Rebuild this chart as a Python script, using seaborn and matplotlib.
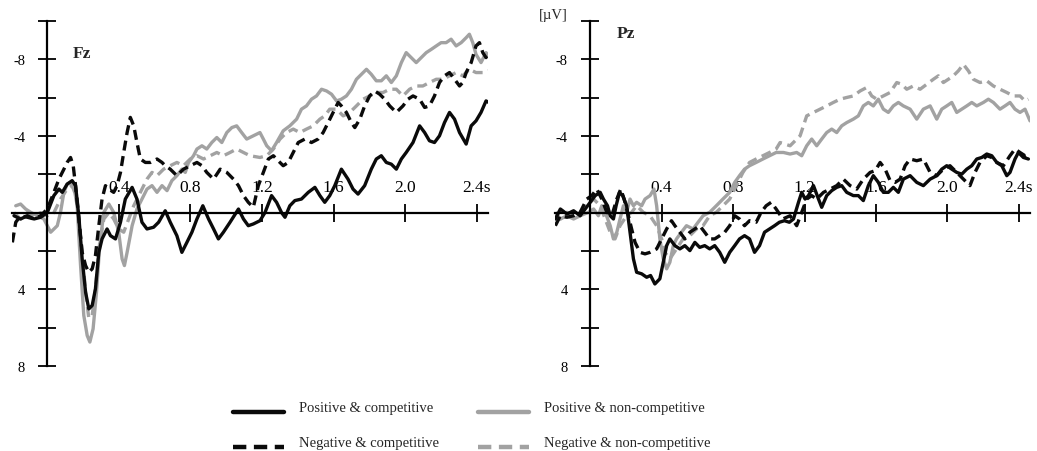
import matplotlib
matplotlib.use("Agg")
import numpy as np
import matplotlib.pyplot as plt
from matplotlib.lines import Line2D
from matplotlib.legend_handler import HandlerLine2D
import seaborn as sns
import pandas as pd

# ---------------- data: (time in s, amplitude in microvolts) ----------------
fz_pos_comp = [(-0.186,0.16),(-0.149,0.33),(-0.111,0.16),(-0.074,0.33),(-0.037,0.24),(0.0,0.0),(0.037,-0.89),(0.065,-1.23),(0.084,-1.06),(0.111,-1.49),(0.139,-1.67),(0.158,-1.41),(0.176,0.16),(0.195,2.41),(0.214,4.15),(0.232,5.02),(0.251,4.84),(0.269,3.98),(0.288,2.07),(0.306,1.37),(0.334,0.85),(0.353,1.20),(0.381,1.37),(0.409,0.50),(0.436,-0.71),(0.474,-1.32),(0.501,-0.71),(0.529,0.50),(0.557,0.85),(0.594,0.76),(0.622,0.50),(0.659,-0.10),(0.687,0.50),(0.724,1.20),(0.752,2.07),(0.780,1.55),(0.808,1.02),(0.836,0.33),(0.869,-0.36),(0.901,0.33),(0.929,0.85),(0.956,1.37),(0.984,1.02),(1.021,0.50),(1.068,-0.19),(1.096,0.33),(1.123,0.68),(1.151,0.59),(1.188,0.42),(1.216,0.0),(1.253,-0.89),(1.281,-0.54),(1.309,0.0),(1.328,0.24),(1.355,-0.36),(1.383,-0.63),(1.420,-0.71),(1.458,-1.06),(1.495,-1.32),(1.523,-0.89),(1.550,-0.54),(1.578,-0.89),(1.606,-1.41),(1.643,-2.27),(1.680,-1.75),(1.708,-1.23),(1.736,-0.97),(1.773,-1.41),(1.810,-2.27),(1.838,-2.80),(1.866,-2.97),(1.894,-2.62),(1.922,-2.53),(1.950,-2.27),(1.978,-2.80),(2.005,-3.14),(2.043,-3.66),(2.080,-4.53),(2.108,-4.18),(2.135,-3.75),(2.163,-3.66),(2.191,-4.01),(2.219,-4.70),(2.247,-5.23),(2.275,-4.88),(2.303,-4.18),(2.340,-3.58),(2.368,-4.53),(2.395,-4.79),(2.423,-5.23),(2.451,-5.83),(2.466,-5.75)]

fz_pos_noncomp = [(-0.176,-0.36),(-0.149,-0.45),(-0.121,-0.19),(-0.093,-0.02),(-0.056,0.16),(-0.019,0.33),(0.019,1.02),(0.056,0.68),(0.074,-0.02),(0.093,-1.06),(0.111,-1.49),(0.130,-1.58),(0.149,-1.32),(0.167,-0.36),(0.186,2.76),(0.204,5.36),(0.223,6.41),(0.238,6.75),(0.256,6.06),(0.275,4.15),(0.293,1.72),(0.316,-0.02),(0.344,-0.45),(0.371,-0.02),(0.399,1.02),(0.418,2.41),(0.431,2.76),(0.446,2.07),(0.474,0.68),(0.501,-0.19),(0.529,-0.71),(0.557,-1.23),(0.585,-1.41),(0.613,-1.06),(0.641,-1.41),(0.669,-1.15),(0.696,-1.67),(0.724,-1.93),(0.752,-2.27),(0.771,-2.10),(0.789,-2.62),(0.817,-2.97),(0.836,-3.32),(0.864,-3.49),(0.891,-3.32),(0.919,-3.66),(0.947,-3.92),(0.975,-3.66),(1.003,-4.18),(1.031,-4.44),(1.058,-4.53),(1.086,-4.18),(1.114,-3.84),(1.151,-4.01),(1.188,-4.18),(1.207,-3.84),(1.226,-3.49),(1.253,-3.23),(1.281,-3.66),(1.318,-4.27),(1.355,-4.53),(1.393,-4.88),(1.420,-5.40),(1.448,-5.57),(1.476,-5.92),(1.504,-6.09),(1.532,-6.44),(1.560,-6.35),(1.588,-6.18),(1.616,-5.83),(1.643,-5.92),(1.671,-6.09),(1.699,-6.44),(1.727,-6.96),(1.755,-7.22),(1.783,-7.48),(1.810,-7.22),(1.838,-6.88),(1.866,-6.88),(1.894,-7.14),(1.922,-6.79),(1.950,-7.14),(1.978,-7.83),(2.005,-8.35),(2.033,-8.09),(2.061,-7.83),(2.089,-8.09),(2.117,-8.35),(2.145,-8.52),(2.173,-8.70),(2.200,-8.87),(2.228,-8.87),(2.256,-9.05),(2.284,-8.70),(2.312,-8.87),(2.340,-9.13),(2.358,-9.31),(2.377,-8.87),(2.395,-8.26),(2.423,-7.83),(2.451,-8.35),(2.466,-8.18)]

fz_neg_comp = [(-0.195,1.55),(-0.176,0.50),(-0.149,0.16),(-0.111,0.24),(-0.074,0.33),(-0.037,0.16),(0.0,-0.19),(0.037,-1.06),(0.065,-1.75),(0.093,-2.27),(0.111,-2.62),(0.130,-2.88),(0.145,-2.45),(0.158,-1.41),(0.176,0.33),(0.195,2.07),(0.214,2.76),(0.232,3.11),(0.251,2.93),(0.269,2.24),(0.288,0.68),(0.306,-0.71),(0.325,-1.41),(0.344,-1.23),(0.371,-1.06),(0.390,-1.41),(0.409,-2.10),(0.427,-3.14),(0.446,-4.18),(0.464,-4.97),(0.483,-4.53),(0.501,-3.66),(0.520,-2.80),(0.548,-2.62),(0.576,-2.62),(0.613,-2.80),(0.641,-2.62),(0.659,-2.45),(0.687,-2.27),(0.724,-1.93),(0.761,-2.27),(0.799,-2.45),(0.836,-2.62),(0.864,-2.45),(0.891,-2.10),(0.929,-1.75),(0.966,-2.27),(1.003,-2.10),(1.040,-1.75),(1.068,-1.41),(1.096,-0.89),(1.123,-0.54),(1.151,-0.28),(1.179,-1.41),(1.207,-2.10),(1.235,-2.80),(1.263,-2.97),(1.290,-2.71),(1.318,-2.45),(1.346,-2.62),(1.374,-3.14),(1.402,-3.66),(1.439,-3.84),(1.476,-3.66),(1.513,-3.84),(1.541,-4.18),(1.569,-4.70),(1.597,-5.23),(1.625,-5.75),(1.643,-5.57),(1.671,-5.23),(1.699,-4.70),(1.718,-4.44),(1.746,-4.88),(1.773,-5.57),(1.801,-6.09),(1.829,-6.35),(1.857,-6.18),(1.885,-5.92),(1.913,-5.57),(1.950,-5.23),(1.987,-5.57),(2.015,-5.92),(2.043,-6.09),(2.080,-5.92),(2.108,-5.49),(2.135,-5.57),(2.163,-6.09),(2.191,-6.79),(2.219,-7.14),(2.247,-7.31),(2.275,-6.96),(2.303,-6.61),(2.321,-6.79),(2.340,-7.31),(2.368,-7.83),(2.395,-8.70),(2.414,-8.87),(2.433,-8.35),(2.451,-8.09),(2.466,-8.35)]

fz_neg_noncomp = [(-0.186,0.0),(-0.149,0.33),(-0.111,0.0),(-0.074,0.16),(-0.037,0.0),(0.0,0.16),(0.037,0.0),(0.074,-0.71),(0.111,-1.23),(0.139,-1.41),(0.167,-0.71),(0.195,2.07),(0.214,4.15),(0.232,5.50),(0.251,5.36),(0.269,3.98),(0.293,1.55),(0.316,0.33),(0.344,0.0),(0.371,0.33),(0.399,0.85),(0.427,1.02),(0.455,0.33),(0.483,-0.36),(0.520,-1.06),(0.557,-1.75),(0.585,-2.10),(0.613,-1.93),(0.650,-2.27),(0.687,-2.45),(0.724,-2.62),(0.761,-2.45),(0.799,-2.80),(0.836,-2.97),(0.873,-2.80),(0.910,-2.97),(0.947,-3.14),(0.984,-2.97),(1.021,-3.14),(1.058,-3.32),(1.096,-3.14),(1.133,-2.97),(1.188,-2.88),(1.226,-2.97),(1.263,-3.32),(1.300,-3.84),(1.337,-4.18),(1.374,-4.36),(1.411,-4.18),(1.448,-4.36),(1.486,-4.53),(1.523,-4.88),(1.550,-5.05),(1.578,-5.40),(1.616,-5.40),(1.653,-5.05),(1.690,-5.23),(1.727,-5.57),(1.764,-5.92),(1.801,-6.09),(1.838,-6.27),(1.876,-6.27),(1.913,-6.44),(1.950,-6.44),(1.987,-6.09),(2.024,-6.44),(2.061,-6.61),(2.098,-6.61),(2.135,-6.79),(2.173,-6.96),(2.210,-6.96),(2.247,-7.14),(2.284,-7.31),(2.321,-7.14),(2.358,-7.48),(2.395,-7.31),(2.433,-7.31),(2.466,-7.40)]

pz_pos_comp = [(-0.195,0.33),(-0.167,-0.19),(-0.130,0.07),(-0.093,-0.10),(-0.056,0.16),(-0.028,-0.19),(0.0,-0.54),(0.028,-0.89),(0.056,-1.06),(0.074,-0.71),(0.097,-0.36),(0.112,0.16),(0.130,0.33),(0.145,-0.36),(0.164,-1.06),(0.182,-0.89),(0.204,-0.36),(0.223,1.02),(0.242,2.41),(0.260,3.11),(0.288,3.19),(0.316,3.37),(0.338,3.28),(0.362,3.72),(0.390,3.45),(0.409,2.59),(0.428,1.72),(0.446,1.37),(0.474,1.72),(0.502,1.89),(0.530,1.72),(0.558,1.98),(0.586,1.55),(0.613,1.81),(0.641,1.72),(0.669,1.89),(0.697,1.72),(0.725,2.07),(0.753,2.59),(0.781,2.07),(0.809,1.72),(0.836,1.37),(0.864,1.20),(0.892,1.37),(0.920,2.07),(0.948,1.72),(0.976,1.02),(1.004,0.85),(1.032,0.68),(1.059,0.50),(1.087,0.42),(1.115,0.50),(1.138,0.33),(1.166,-0.54),(1.184,-1.06),(1.203,-0.71),(1.222,-0.89),(1.250,-1.41),(1.278,-0.71),(1.296,-0.28),(1.324,-0.89),(1.352,-1.15),(1.380,-1.32),(1.408,-1.41),(1.436,-1.06),(1.473,-0.89),(1.501,-0.89),(1.529,-0.63),(1.557,-1.41),(1.585,-1.93),(1.613,-1.58),(1.641,-1.06),(1.669,-1.06),(1.697,-1.32),(1.725,-1.06),(1.753,-1.75),(1.791,-1.93),(1.828,-1.58),(1.865,-1.41),(1.903,-1.75),(1.940,-1.93),(1.968,-2.27),(1.996,-2.45),(2.024,-2.27),(2.052,-2.10),(2.080,-2.01),(2.108,-2.27),(2.136,-2.45),(2.164,-2.80),(2.192,-2.88),(2.220,-3.06),(2.248,-2.97),(2.276,-2.62),(2.304,-2.45),(2.332,-1.93),(2.350,-2.10),(2.378,-2.80),(2.397,-3.14),(2.425,-2.88),(2.453,-2.80)]

pz_pos_noncomp = [(-0.195,0.16),(-0.167,0.33),(-0.130,0.16),(-0.093,0.33),(-0.056,0.16),(-0.009,-0.02),(0.019,-0.19),(0.046,0.16),(0.065,-0.36),(0.084,-0.02),(0.112,0.68),(0.130,1.37),(0.149,1.02),(0.167,0.33),(0.186,-0.36),(0.204,-0.02),(0.223,-0.71),(0.242,-0.36),(0.260,-0.54),(0.288,-0.36),(0.307,-0.71),(0.335,-0.89),(0.357,-1.23),(0.372,-0.36),(0.390,1.37),(0.409,2.41),(0.428,2.93),(0.446,2.59),(0.465,1.72),(0.483,1.37),(0.511,1.02),(0.539,0.68),(0.576,0.85),(0.604,0.50),(0.632,0.16),(0.669,-0.02),(0.706,-0.36),(0.743,-0.71),(0.781,-1.06),(0.809,-1.58),(0.836,-1.93),(0.864,-2.27),(0.892,-2.45),(0.929,-2.62),(0.967,-2.80),(1.004,-2.97),(1.041,-3.14),(1.082,-3.14),(1.119,-3.06),(1.156,-3.14),(1.184,-2.97),(1.212,-3.49),(1.240,-3.84),(1.268,-3.49),(1.296,-3.84),(1.324,-4.18),(1.352,-4.36),(1.380,-4.18),(1.408,-4.53),(1.436,-4.70),(1.473,-4.88),(1.501,-5.05),(1.529,-5.57),(1.557,-5.75),(1.585,-5.57),(1.613,-5.92),(1.641,-5.40),(1.669,-5.23),(1.697,-5.57),(1.725,-5.75),(1.753,-5.57),(1.791,-5.40),(1.828,-4.88),(1.865,-5.40),(1.903,-5.57),(1.940,-4.88),(1.968,-5.40),(1.996,-5.57),(2.024,-5.75),(2.052,-5.23),(2.080,-5.40),(2.108,-5.57),(2.136,-5.75),(2.164,-5.57),(2.201,-5.75),(2.229,-5.92),(2.257,-5.75),(2.294,-5.40),(2.322,-5.57),(2.350,-5.75),(2.378,-5.40),(2.406,-5.23),(2.434,-5.40),(2.462,-4.79)]

pz_neg_comp = [(-0.195,0.68),(-0.167,0.16),(-0.130,0.24),(-0.093,0.16),(-0.056,-0.02),(-0.019,-0.71),(0.009,-0.89),(0.037,-1.23),(0.065,-0.71),(0.093,-0.02),(0.121,0.16),(0.149,-0.71),(0.171,-1.23),(0.190,-0.71),(0.214,0.16),(0.232,0.85),(0.251,1.55),(0.279,2.07),(0.307,2.15),(0.335,2.07),(0.372,1.89),(0.400,1.37),(0.428,0.85),(0.455,0.42),(0.474,0.68),(0.502,1.02),(0.530,1.37),(0.558,1.02),(0.586,0.85),(0.613,0.68),(0.641,1.02),(0.669,1.37),(0.697,1.37),(0.725,1.20),(0.753,1.02),(0.781,0.68),(0.809,0.16),(0.836,0.33),(0.864,0.68),(0.892,0.42),(0.929,0.50),(0.957,-0.02),(0.985,-0.36),(1.013,-0.54),(1.041,-0.19),(1.078,0.33),(1.119,0.16),(1.156,0.68),(1.184,-0.02),(1.212,-0.71),(1.240,-0.89),(1.268,-0.71),(1.306,-1.06),(1.343,-1.23),(1.380,-1.41),(1.417,-1.75),(1.455,-1.41),(1.492,-1.23),(1.529,-1.75),(1.567,-2.10),(1.595,-2.19),(1.623,-2.62),(1.651,-2.27),(1.679,-1.67),(1.707,-1.58),(1.735,-1.75),(1.763,-2.45),(1.791,-2.80),(1.828,-2.71),(1.865,-2.80),(1.903,-2.10),(1.940,-1.93),(1.977,-2.27),(2.014,-2.45),(2.052,-2.10),(2.089,-1.75),(2.126,-1.41),(2.154,-2.10),(2.182,-2.62),(2.220,-2.97),(2.248,-2.88),(2.276,-2.62),(2.313,-2.45),(2.350,-2.97),(2.378,-3.32),(2.406,-3.14),(2.434,-2.97),(2.453,-3.06)]

pz_neg_noncomp = [(-0.195,-0.02),(-0.167,0.33),(-0.130,-0.02),(-0.093,0.16),(-0.056,-0.02),(-0.019,-0.36),(0.019,-0.71),(0.056,-0.36),(0.084,0.33),(0.112,1.02),(0.139,1.37),(0.167,0.68),(0.204,0.16),(0.232,-0.02),(0.260,-0.36),(0.297,-0.02),(0.335,0.16),(0.372,0.68),(0.400,1.37),(0.418,2.07),(0.446,2.41),(0.483,1.89),(0.520,1.37),(0.558,1.20),(0.595,0.85),(0.632,0.68),(0.669,0.16),(0.706,-0.02),(0.743,-0.36),(0.781,-0.71),(0.818,-1.41),(0.855,-2.10),(0.892,-2.62),(0.929,-2.80),(0.967,-2.97),(1.004,-3.14),(1.041,-3.32),(1.063,-3.66),(1.119,-3.49),(1.175,-4.01),(1.212,-5.05),(1.250,-5.23),(1.287,-5.40),(1.324,-5.57),(1.361,-5.75),(1.399,-5.92),(1.436,-6.01),(1.473,-6.09),(1.511,-6.35),(1.548,-6.53),(1.576,-6.09),(1.604,-5.92),(1.641,-6.09),(1.679,-6.27),(1.716,-6.79),(1.744,-6.70),(1.772,-6.44),(1.809,-6.61),(1.847,-6.44),(1.884,-6.70),(1.921,-6.96),(1.949,-7.14),(1.977,-6.79),(2.005,-6.96),(2.033,-7.14),(2.061,-7.40),(2.089,-7.74),(2.117,-7.40),(2.145,-6.96),(2.182,-6.79),(2.220,-6.88),(2.257,-6.61),(2.294,-6.44),(2.332,-6.27),(2.369,-6.09),(2.406,-6.09),(2.434,-5.83),(2.453,-5.92)]

conditions = ["Positive & competitive", "Negative & competitive",
              "Positive & non-competitive", "Negative & non-competitive"]
x_ticks = [0.4, 0.8, 1.2, 1.6, 2.0, 2.4]
x_tick_labels = ["0.4", "0.8", "1.2", "1.6", "2.0", "2.4s"]
y_ticks = [-10, -8, -6, -4, -2, 2, 4, 6, 8]
y_tick_labels = ["", "-8", "", "-4", "", "", "4", "", "8"]
panel_names = ["Fz", "Pz"]

# ---------------- long table ----------------
series = {
    "Fz": dict(zip(conditions, [fz_pos_comp, fz_neg_comp, fz_pos_noncomp, fz_neg_noncomp])),
    "Pz": dict(zip(conditions, [pz_pos_comp, pz_neg_comp, pz_pos_noncomp, pz_neg_noncomp])),
}
rows = []
for site, d in series.items():
    for cond, pts in d.items():
        for t, v in pts:
            rows.append({"site": site, "condition": cond, "time": t, "uV": v})
df = pd.DataFrame(rows)

# ---------------- style ----------------
sns.set_style("white")
plt.rcParams["font.family"] = ["Liberation Serif", "DejaVu Serif"]
plt.rcParams["font.size"] = 10.5

BLACK = "#0a0a0a"
GRAY = "#a2a2a2"
palette = {conditions[0]: BLACK, conditions[1]: BLACK,
           conditions[2]: GRAY, conditions[3]: GRAY}
dash_pat = (3.0, 1.7)
dashes = {conditions[0]: "", conditions[1]: dash_pat,
          conditions[2]: "", conditions[3]: dash_pat}
draw_order = [conditions[3], conditions[2], conditions[1], conditions[0]]

W, H = 1037, 452
fig = plt.figure(figsize=(W / 100, H / 100), dpi=100)
ax_bottom = (H - 367) / H
ax_height = (367 - 22) / H
axes = [fig.add_axes([12 / W, ax_bottom, 476 / W, ax_height]),
        fig.add_axes([555 / W, ax_bottom, 475 / W, ax_height])]

for ax, site in zip(axes, panel_names):
    sub = df[df["site"] == site]
    sns.lineplot(data=sub, x="time", y="uV", hue="condition", style="condition",
                 hue_order=draw_order, style_order=draw_order,
                 palette=palette, dashes=dashes, estimator=None, sort=False,
                 linewidth=2.4, legend=False, ax=ax)
    ax.set_xlim(-0.197, 2.462)
    ax.set_ylim(8, -10)
    ax.set_xlabel("")
    ax.set_ylabel("")
    for s in ("bottom", "right"):
        ax.spines[s].set_visible(False)
    ax.spines["left"].set_position(("data", 0))
    ax.spines["top"].set_position(("data", 0))
    for s in ("left", "top"):
        ax.spines[s].set_linewidth(1.6)
        ax.spines[s].set_color("black")
    ax.xaxis.set_ticks_position("top")
    ax.set_xticks(x_ticks)
    ax.set_xticklabels(x_tick_labels)
    ax.set_yticks(y_ticks)
    ax.set_yticklabels(y_tick_labels)
    ax.tick_params(axis="x", which="major", direction="inout", length=13, width=1.3,
                   pad=6.5, top=True, bottom=False, labeltop=True, labelbottom=False,
                   labelsize=12.5, colors="black")
    ax.tick_params(axis="y", which="major", direction="inout", length=13, width=1.3,
                   pad=9.5, left=True, labelsize=10.5, colors="black")
    ax.grid(False)

axes[0].text(0.144, -8.35, "Fz", fontsize=12.5, fontweight="bold", ha="left", va="center")
axes[1].text(0.151, -9.35, "Pz", fontsize=12.5, fontweight="bold", ha="left", va="center")
axes[1].text(-0.125, -10.35, "[\u00b5V]", fontsize=10.5, ha="right", va="center", clip_on=False)


class LoweredLine(HandlerLine2D):
    """Legend line drawn a little below the text centre, as in the source figure."""
    def create_artists(self, legend, orig_handle, xdescent, ydescent, width,
                       height, fontsize, trans):
        arts = super().create_artists(legend, orig_handle, xdescent, ydescent,
                                      width, height, fontsize, trans)
        for a in arts:
            a.set_ydata(np.asarray(a.get_ydata(), dtype=float) - 4.5)
        return arts


handles = []
for c in conditions:
    h = Line2D([], [], color=palette[c], linewidth=3.2, linestyle="-")
    if dashes[c]:
        h.set_dashes(dash_pat)
    handles.append(h)
fig.legend(handles=handles, labels=conditions, ncol=2, frameon=False,
           loc="center left", bbox_to_anchor=(226 / W, 0.058),
           borderpad=0, handlelength=3.5, handletextpad=1.0,
           columnspacing=2.7, labelspacing=1.5, fontsize=10.5,
           handler_map={Line2D: LoweredLine()})

fig.savefig("out.png", dpi=100)
